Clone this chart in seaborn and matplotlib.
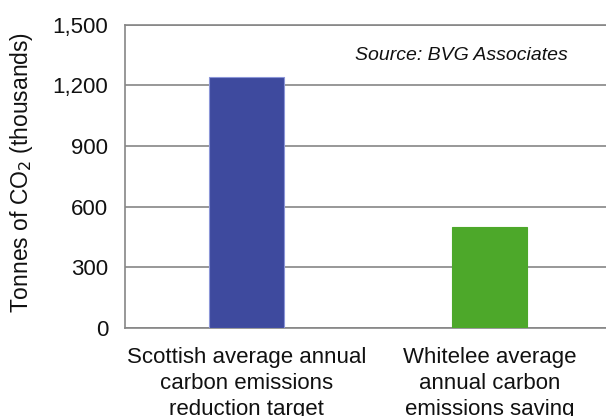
import matplotlib
matplotlib.use("Agg")
import matplotlib.pyplot as plt
import matplotlib.ticker as mticker
import seaborn as sns
import pandas as pd

categories = [
    "Scottish average annual\ncarbon emissions\nreduction target",
    "Whitelee average\nannual carbon\nemissions saving",
]
values = [1240, 500]
bar_colors = ["#3E4A9E", "#4DA82A"]
edge_colors = ["#8C96D8", "#4DA82A"]
y_ticks = [0, 300, 600, 900, 1200, 1500]

sns.set_theme(style="white")
plt.rcParams["font.family"] = ["Liberation Sans", "DejaVu Sans"]

df = pd.DataFrame({"category": categories, "value": values})

fig = plt.figure(figsize=(6.06, 4.16), dpi=100)
ax = fig.add_axes([125 / 606, 88 / 416, 486 / 606, 303.5 / 416])

sns.barplot(data=df, x="category", y="value", hue="category",
            palette=bar_colors, saturation=1, width=0.31, legend=False,
            ax=ax, zorder=3)
for patch, ec in zip(ax.patches, edge_colors):
    patch.set_edgecolor(ec)
    patch.set_linewidth(0.8)

ax.set_xlim(-0.5, 1.5)
ax.set_ylim(0, 1500)
ax.set_yticks(y_ticks)
ax.yaxis.set_major_formatter(mticker.FuncFormatter(lambda v, p: f"{int(v):,}"))
ax.grid(axis="y", color="#868686", linewidth=1.2, zorder=0)
ax.set_axisbelow(True)

for side in ["left", "bottom", "top"]:
    ax.spines[side].set_color("#868686")
    ax.spines[side].set_linewidth(1.2)
ax.spines["right"].set_visible(False)

ax.tick_params(axis="y", length=0, pad=12, labelsize=16, labelcolor="#111111")
ax.tick_params(axis="x", length=0, pad=14, labelsize=16, labelcolor="#111111")
for lbl in ax.get_xticklabels():
    lbl.set_linespacing(1.3)

ax.set_xlabel("")
ax.set_ylabel(r"Tonnes of CO$_2$ (thousands)", fontsize=16.5, color="#111111")
ax.yaxis.set_label_coords(-0.185, 0.514)

ax.text(0.473, 0.883, "Source: BVG Associates", transform=ax.transAxes,
        fontsize=14, style="italic", va="baseline", ha="left", color="#111111")

fig.savefig("out.png", dpi=100)
